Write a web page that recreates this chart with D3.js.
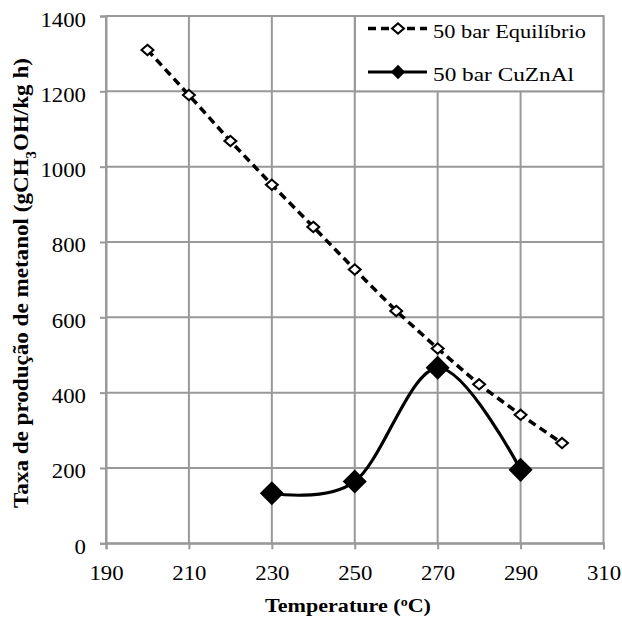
<!DOCTYPE html>
<html>
<head>
<meta charset="utf-8">
<script src="https://cdn.jsdelivr.net/npm/d3@7"></script>
<style>
  body { margin: 0; background: #fff; }
  text { font-family: "Liberation Serif", serif; fill: #000; }
</style>
</head>
<body>
<svg id="chart"></svg>
<script>
const eqTemps = [200, 210, 220, 230, 240, 250, 260, 270, 280, 290, 300];
const eqRates = [1310, 1190, 1068, 952, 840, 727, 617, 517, 422, 341, 266];
const catTemps = [230, 250, 270, 290];
const catRates = [133, 164, 466, 195];
const xTicks = [190, 210, 230, 250, 270, 290, 310];
const yTicks = [0, 200, 400, 600, 800, 1000, 1200, 1400];
const seriesNames = ["50 bar Equilíbrio", "50 bar CuZnAl"];

const width = 622, height = 619;
const margin = { left: 106, right: 18.5, top: 16, bottom: 75.7 };

const svg = d3.select("#chart")
    .attr("width", width)
    .attr("height", height);

const x = d3.scaleLinear()
    .domain([190, 310])
    .range([margin.left, width - margin.right]);

const y = d3.scaleLinear()
    .domain([0, 1400])
    .range([height - margin.bottom, margin.top]);

const gridColor = "#999";
const stretch = 1.14; // widen glyphs a bit, the source font is broader

// stretch a text horizontally so that it takes a given length
function fitText(sel, target, tx, ty, rot) {
    const w = sel.node().getComputedTextLength();
    sel.attr("transform", `translate(${tx},${ty}) rotate(${rot}) scale(${target / w},1)`);
}

// gridlines
svg.append("g")
    .selectAll("line")
    .data(xTicks)
    .join("line")
    .attr("x1", d => x(d)).attr("x2", d => x(d))
    .attr("y1", y(0)).attr("y2", y(1400))
    .attr("stroke", gridColor).attr("stroke-width", 2);

svg.append("g")
    .selectAll("line")
    .data(yTicks)
    .join("line")
    .attr("x1", x(190)).attr("x2", x(310))
    .attr("y1", d => y(d)).attr("y2", d => y(d))
    .attr("stroke", gridColor).attr("stroke-width", 2);

// axes
const xAxis = svg.append("g")
    .attr("transform", `translate(0, ${y(0)})`)
    .call(d3.axisBottom(x).tickValues(xTicks).tickSize(6).tickFormat(d3.format("d")));

const yAxis = svg.append("g")
    .attr("transform", `translate(${x(190)}, 0)`)
    .call(d3.axisLeft(y).tickValues(yTicks).tickSize(6).tickFormat(d3.format("d")));

[xAxis, yAxis].forEach(g => {
    g.select(".domain").attr("stroke", gridColor).attr("stroke-width", 2);
    g.selectAll(".tick line").attr("stroke", gridColor).attr("stroke-width", 2);
    g.selectAll(".tick text")
        .attr("fill", "#000")
        .style("font-family", "Liberation Serif, serif")
        .style("font-size", "20px");
});

xAxis.selectAll(".tick text")
    .attr("y", 0).attr("dy", 0)
    .attr("transform", `translate(0, 36.7) scale(${stretch},1)`);

yAxis.selectAll(".tick text")
    .attr("x", 0).attr("dy", 0)
    .attr("transform", `translate(-20, 10) scale(${stretch},1)`);

// series
const eqData = eqTemps.map((t, i) => ({ t, v: eqRates[i] }));
const catData = catTemps.map((t, i) => ({ t, v: catRates[i] }));

svg.append("path")
    .datum(eqData)
    .attr("d", d3.line().x(d => x(d.t)).y(d => y(d.v)))
    .attr("fill", "none")
    .attr("stroke", "#000")
    .attr("stroke-width", 3.5)
    .attr("stroke-dasharray", "8,5");

const smallDiamond = d3.symbol().type(d3.symbolDiamond2).size(75);
svg.append("g")
    .selectAll("path")
    .data(eqData)
    .join("path")
    .attr("transform", d => `translate(${x(d.t)},${y(d.v)}) scale(1.1,0.95)`)
    .attr("d", smallDiamond)
    .attr("fill", "#fff")
    .attr("stroke", "#000")
    .attr("stroke-width", 2);

svg.append("path")
    .datum(catData)
    .attr("d", d3.line().x(d => x(d.t)).y(d => y(d.v)).curve(d3.curveCardinal.tension(0)))
    .attr("fill", "none")
    .attr("stroke", "#000")
    .attr("stroke-width", 3.2);

const bigDiamond = d3.symbol().type(d3.symbolDiamond2).size(370);
svg.append("g")
    .selectAll("path")
    .data(catData)
    .join("path")
    .attr("transform", d => `translate(${x(d.t)},${y(d.v)})`)
    .attr("d", bigDiamond)
    .attr("fill", "#000");

// legend
const legend = svg.append("g");
legend.append("rect")
    .attr("x", 355).attr("y", y(1400))
    .attr("width", x(310) - 355).attr("height", y(1200) - y(1400))
    .attr("fill", "#fff")
    .attr("stroke", gridColor).attr("stroke-width", 2);

const legY = [28.5, 72];
legend.append("line")
    .attr("x1", 368).attr("x2", 427)
    .attr("y1", legY[0]).attr("y2", legY[0])
    .attr("stroke", "#000").attr("stroke-width", 3.5)
    .attr("stroke-dasharray", "8,5");
legend.append("path")
    .attr("transform", `translate(398,${legY[0]}) scale(1.1,0.95)`)
    .attr("d", smallDiamond)
    .attr("fill", "#fff").attr("stroke", "#000").attr("stroke-width", 2);

legend.append("line")
    .attr("x1", 368).attr("x2", 427)
    .attr("y1", legY[1]).attr("y2", legY[1])
    .attr("stroke", "#000").attr("stroke-width", 3.2);
legend.append("path")
    .attr("transform", `translate(398,${legY[1]})`)
    .attr("d", d3.symbol().type(d3.symbolDiamond2).size(130))
    .attr("fill", "#000");

const legWidths = [153, 141];
legend.selectAll("text.leg")
    .data(seriesNames)
    .join("text")
    .attr("class", "leg")
    .style("font-size", "19px")
    .text(d => d)
    .each(function (d, i) {
        fitText(d3.select(this), legWidths[i], 433, legY[i] + 9, 0);
    });

// axis titles
const xTitle = svg.append("text")
    .attr("text-anchor", "middle")
    .style("font-size", "19px")
    .style("font-weight", "bold");
xTitle.append("tspan").text("Temperature (");
xTitle.append("tspan").attr("baseline-shift", "super").style("font-size", "12px").text("o");
xTitle.append("tspan").text("C)");
fitText(xTitle, 166, 348, 612, 0);

const yTitle = svg.append("text")
    .attr("text-anchor", "middle")
    .style("font-size", "22px")
    .style("font-weight", "bold");
yTitle.append("tspan").text("Taxa de produção de metanol (gCH");
yTitle.append("tspan").attr("baseline-shift", "sub").style("font-size", "14px").text("3");
yTitle.append("tspan").text("OH/kg h)");
fitText(yTitle, 450, 28.3, 283, -90);
</script>
</body>
</html>
